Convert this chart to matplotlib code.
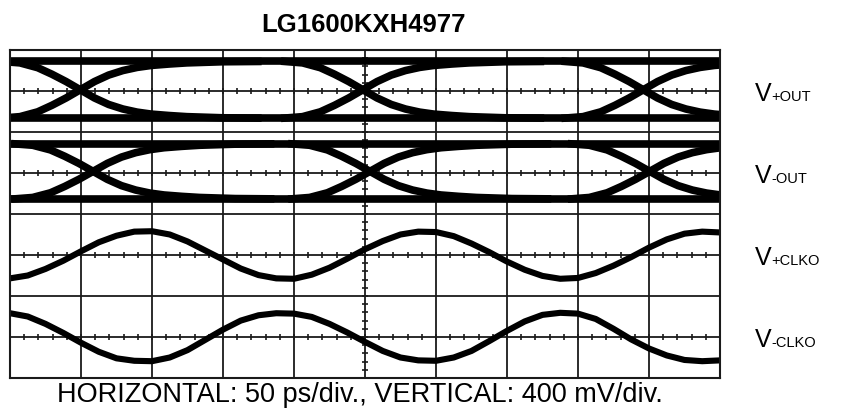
import matplotlib
matplotlib.use("Agg")
import matplotlib.pyplot as plt
import numpy as np

plt.rcParams['font.family'] = ['Liberation Sans', 'DejaVu Sans']

# scope screen: 10 horizontal divisions (50 ps/div), 8 vertical divisions (400 mV/div)
title = "LG1600KXH4977"
caption = "HORIZONTAL: 50 ps/div., VERTICAL: 400 mV/div."

trace_names = ["+OUT", "-OUT", "+CLKO", "-CLKO"]
trace_offsets = [7, 5, 3, 1]          # screen position of each trace centre (div)

# eye diagrams (V+OUT, V-OUT): crossing times and rail levels, in divisions
out_p_cross = [0.99, 4.97, 8.92]
out_p_high, out_p_low = 0.72, -0.66
out_n_cross = [1.17, 5.07, 9.01]
out_n_high, out_n_low = 0.71, -0.63

# shape of one rising edge around its crossing (normalised -1 .. 1)
edge_dt = [-1.1, -0.85, -0.6, -0.4, -0.2, 0.0, 0.2, 0.4, 0.6, 0.8, 1.0,
           1.25, 1.5, 1.75, 2.0, 2.5]
edge_rise = [-1.0, -0.95, -0.78, -0.55, -0.29, 0.0, 0.29, 0.52, 0.68, 0.79, 0.86,
             0.91, 0.95, 0.97, 0.99, 1.0]

# clock outputs sampled every quarter division (div)
clk_t = [0.0, 0.25, 0.5, 0.75, 1.0, 1.25, 1.5, 1.75, 2.0, 2.25,
         2.5, 2.75, 3.0, 3.25, 3.5, 3.75, 4.0, 4.25, 4.5, 4.75,
         5.0, 5.25, 5.5, 5.75, 6.0, 6.25, 6.5, 6.75, 7.0, 7.25,
         7.5, 7.75, 8.0, 8.25, 8.5, 8.75, 9.0, 9.25, 9.5, 9.75, 10.0]
clk_p = [-0.57, -0.50, -0.34, -0.14, 0.09, 0.31, 0.47, 0.57, 0.58, 0.50,
         0.33, 0.11, -0.11, -0.33, -0.49, -0.57, -0.58, -0.48, -0.31, -0.09,
         0.14, 0.34, 0.50, 0.57, 0.56, 0.46, 0.28, 0.07, -0.16, -0.36,
         -0.51, -0.58, -0.56, -0.44, -0.26, -0.05, 0.18, 0.38, 0.52, 0.57, 0.55]
clk_n = [0.58, 0.50, 0.32, 0.10, -0.14, -0.36, -0.52, -0.58, -0.59, -0.50,
         -0.32, -0.07, 0.18, 0.40, 0.53, 0.58, 0.57, 0.49, 0.32, 0.11,
         -0.12, -0.34, -0.50, -0.57, -0.58, -0.50, -0.34, -0.10, 0.15, 0.38,
         0.54, 0.59, 0.57, 0.44, 0.20, -0.06, -0.28, -0.45, -0.56, -0.59, -0.57]


def draw_eye(ax, offset, crossings, high, low, lw=5.5):
    mid = (high + low) / 2
    half = (high - low) / 2
    dt = np.array(edge_dt)
    rise = np.array(edge_rise)
    ax.axhline(offset + high, color='black', lw=lw, solid_capstyle='butt')
    ax.axhline(offset + low, color='black', lw=lw, solid_capstyle='butt')
    for tc in crossings:
        ax.plot(tc + dt, offset + mid + half * rise, color='black', lw=lw)
        ax.plot(tc + dt, offset + mid - half * rise, color='black', lw=lw)


fig = plt.figure(figsize=(8.41, 4.17), dpi=100)
ax = fig.add_axes([10 / 841, 1 - 378 / 417, 710 / 841, 328 / 417])
ax.set_xlim(0, 10)
ax.set_ylim(0, 8)

# graticule
for x in range(1, 10):
    ax.axvline(x, color='#1a1a1a', lw=1.3, zorder=1)
for y in range(1, 8):
    ax.axhline(y, color='#1a1a1a', lw=1.3, zorder=1)
minor = np.arange(0.2, 10, 0.2)
for off in trace_offsets:
    ax.plot(minor, np.full_like(minor, off), ls='none', marker='|',
            ms=5, mew=1.2, color='#1a1a1a', zorder=1)
minor_y = np.arange(0.2, 8, 0.2)
ax.plot(np.full_like(minor_y, 5), minor_y, ls='none', marker='_',
        ms=5, mew=1.2, color='#1a1a1a', zorder=1)

draw_eye(ax, trace_offsets[0], out_p_cross, out_p_high, out_p_low)
draw_eye(ax, trace_offsets[1], out_n_cross, out_n_high, out_n_low)
ax.plot(clk_t, np.array(clk_p) + trace_offsets[2], color='black', lw=4.4)
ax.plot(clk_t, np.array(clk_n) + trace_offsets[3], color='black', lw=4.4)

ax.set_xticks([])
ax.set_yticks([])
for sp in ax.spines.values():
    sp.set_linewidth(1.5)
    sp.set_color('#1a1a1a')

# channel labels on the right
for name, off in zip(trace_names, trace_offsets):
    ax.annotate("V", xy=(1.0, off), xycoords=('axes fraction', 'data'),
                xytext=(25, -7), textcoords='offset points',
                ha='left', va='baseline', fontsize=18)
    ax.annotate(name, xy=(1.0, off), xycoords=('axes fraction', 'data'),
                xytext=(37, -7), textcoords='offset points',
                ha='left', va='baseline', fontsize=10.5)

fig.text(0.432, 0.94, title, ha='center', va='center',
         fontsize=18.5, fontweight='bold')
fig.text(0.428, 0.052, caption, ha='center', va='center', fontsize=19.5)

fig.savefig("out.png", dpi=100)
